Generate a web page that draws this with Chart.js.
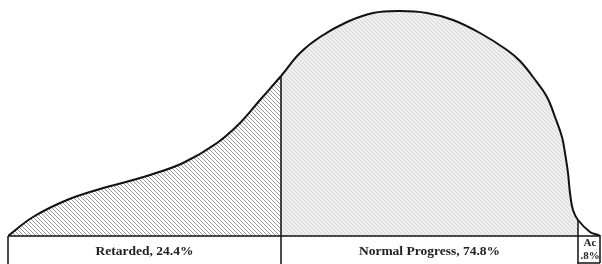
<!DOCTYPE html>
<html>
<head>
<meta charset="utf-8">
<script src="https://cdn.jsdelivr.net/npm/chart.js@4/dist/chart.umd.min.js"></script>
<style>
    html, body { margin: 0; padding: 0; background: #fff; }
    #wrap { width: 602px; height: 264px; }
</style>
</head>
<body>
<div id="wrap"><canvas id="curveChart" width="602" height="264"></canvas></div>
<script>
// outline of the distribution curve (x along the base, y = height above base)
const curveX = [0, 25, 59, 92, 125, 142, 175, 209, 232, 252, 273, 292, 312, 339, 365, 392, 419, 445, 472, 499, 512, 525, 539, 547, 554, 557, 560, 562, 565, 570, 582, 590, 592];
const curveY = [0, 19, 36, 47, 56, 61, 73, 93, 113, 136, 160, 183, 199, 214, 223, 225, 223, 216, 203, 186, 175, 159, 139, 119, 99, 83, 63, 43, 26, 16, 4, 1, 0];

// where the sections split along the base
const sectionBounds = [0, 273, 570, 592];
const sectionLabels = ['Retarded, 24.4%', 'Normal Progress, 74.8%', 'Ac\n.8%'];

function makeHatch(bg, fg, step, width) {
    const c = document.createElement('canvas');
    c.width = step;
    c.height = step;
    const g = c.getContext('2d');
    g.fillStyle = bg;
    g.fillRect(0, 0, step, step);
    g.strokeStyle = fg;
    g.lineWidth = width;
    // "\" direction stripes
    g.beginPath();
    g.moveTo(-1, -1); g.lineTo(step + 1, step + 1);
    g.moveTo(-1 - step, -1); g.lineTo(1, step + 1);
    g.moveTo(step - 1, -1); g.lineTo(2 * step + 1, step + 1);
    g.stroke();
    return g.createPattern(c, 'repeat');
}

const ctxPat = document.getElementById('curveChart').getContext('2d');
const retardedFill = makeHatch('#ffffff', '#8c8c8c', 4, 0.9);
const normalFill = makeHatch('#efefef', '#d2d2d2', 4, 0.9);

const points = curveX.map((x, i) => ({ x: x, y: curveY[i] }));

const tablePlugin = {
    id: 'tablePlugin',
    afterDatasetsDraw(chart) {
        const ctx = chart.ctx;
        const xs = chart.scales.x;
        const base = chart.chartArea.bottom;
        const bottom = 263;
        const meta = chart.getDatasetMeta(0);
        const left = xs.getPixelForValue(sectionBounds[0]);
        const right = xs.getPixelForValue(sectionBounds[3]);

        ctx.save();
        ctx.strokeStyle = '#111';
        ctx.lineWidth = 1.5;
        ctx.beginPath();
        ctx.moveTo(left, base);
        ctx.lineTo(right, base);
        ctx.moveTo(left, base);
        ctx.lineTo(left, 264);
        ctx.moveTo(right, base - 1);
        ctx.lineTo(right, bottom);
        // dividers run from the curve down through the table
        [1, 2].forEach(k => {
            const idx = curveX.indexOf(sectionBounds[k]);
            const px = xs.getPixelForValue(sectionBounds[k]);
            const top = idx >= 0 ? meta.data[idx].y : base;
            ctx.moveTo(px, top);
            ctx.lineTo(px, 264);
        });
        const acLeft = xs.getPixelForValue(sectionBounds[2]);
        ctx.moveTo(acLeft, bottom);
        ctx.lineTo(right, bottom);
        ctx.stroke();

        ctx.fillStyle = '#222';
        ctx.textAlign = 'center';
        ctx.textBaseline = 'middle';
        for (let k = 0; k < 3; k++) {
            const cx = (xs.getPixelForValue(sectionBounds[k]) + xs.getPixelForValue(sectionBounds[k + 1])) / 2;
            const lines = sectionLabels[k].split('\n');
            if (lines.length === 1) {
                ctx.font = 'bold 13.5px "Liberation Serif", "DejaVu Serif", serif';
                ctx.fillText(lines[0], cx, 252);
            } else {
                ctx.font = 'bold 11px "Liberation Serif", "DejaVu Serif", serif';
                ctx.fillText(lines[0], cx + 1, 243);
                ctx.fillText(lines[1], cx + 1, 256);
            }
        }
        ctx.restore();
    }
};

new Chart(ctxPat, {
    type: 'line',
    data: {
        datasets: [{
            data: points,
            borderColor: '#111',
            borderWidth: 2,
            pointRadius: 0,
            tension: 0.4,
            fill: 'origin',
            backgroundColor: normalFill,
            segment: {
                backgroundColor: c => {
                    const x = c.p0.parsed.x;
                    if (x < sectionBounds[1]) return retardedFill;
                    if (x < sectionBounds[2]) return normalFill;
                    return '#ffffff';
                }
            }
        }]
    },
    options: {
        responsive: false,
        animation: false,
        layout: { padding: { left: 8, right: 2, top: 0, bottom: 28 } },
        scales: {
            x: { type: 'linear', min: 0, max: 592, display: false },
            y: { min: 0, max: 236, display: false }
        },
        plugins: {
            legend: { display: false },
            tooltip: { enabled: false }
        }
    },
    plugins: [tablePlugin]
});
</script>
</body>
</html>
